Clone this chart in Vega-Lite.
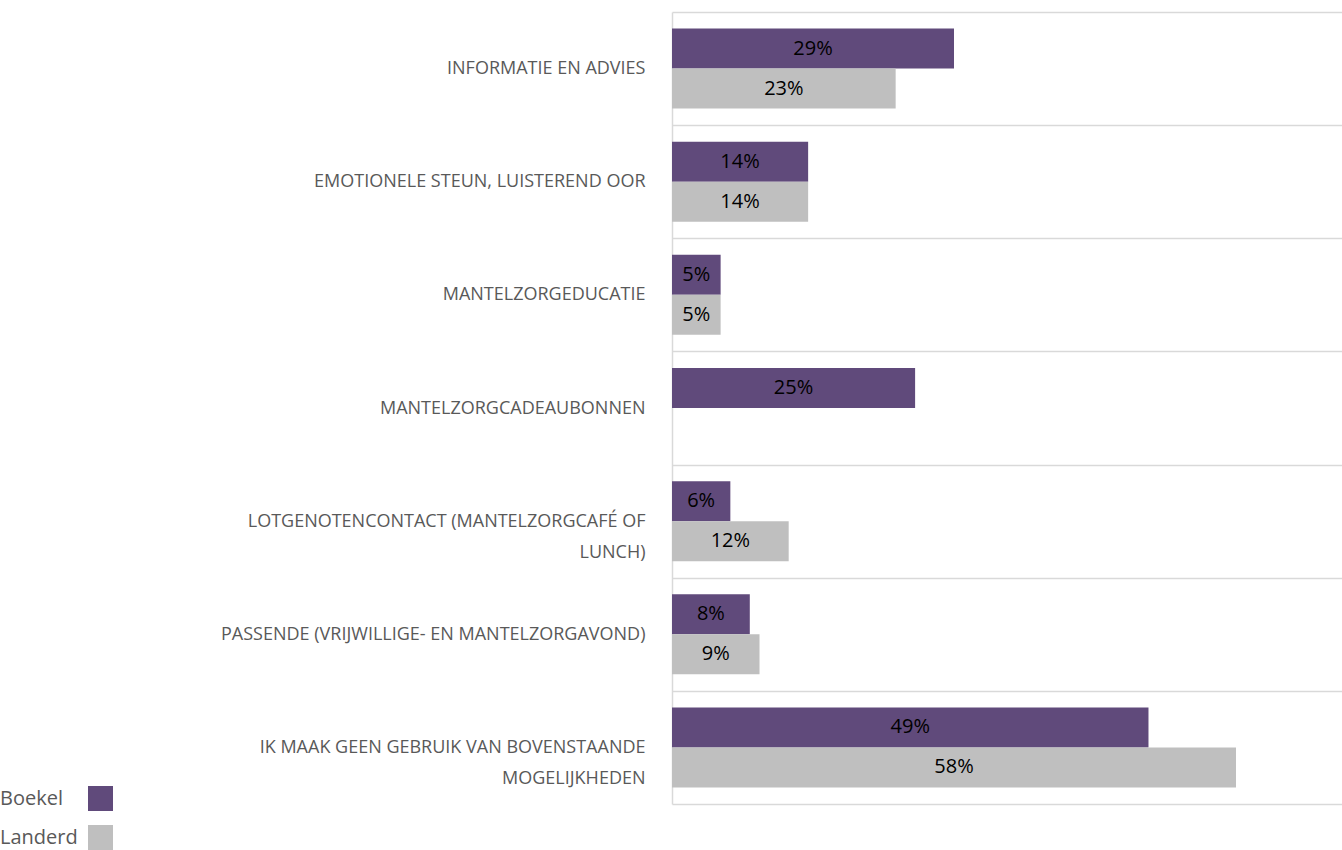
{
  "$schema": "https://vega.github.io/schema/vega-lite/v6.json",
  "autosize": {"type": "none"},
  "padding": {"left": 672, "top": 12, "right": 0, "bottom": 46},
  "width": 670,
  "height": 792,
  "background": "white",
  "config": {"view": {"stroke": null}},
  "data": {"values": [
    {"categorie": "INFORMATIE EN ADVIES", "reeks": "Boekel", "waarde": 0.29, "label": "29%"},
    {"categorie": "INFORMATIE EN ADVIES", "reeks": "Landerd", "waarde": 0.23, "label": "23%"},
    {"categorie": "EMOTIONELE STEUN, LUISTEREND OOR", "reeks": "Boekel", "waarde": 0.14, "label": "14%"},
    {"categorie": "EMOTIONELE STEUN, LUISTEREND OOR", "reeks": "Landerd", "waarde": 0.14, "label": "14%"},
    {"categorie": "MANTELZORGEDUCATIE", "reeks": "Boekel", "waarde": 0.05, "label": "5%"},
    {"categorie": "MANTELZORGEDUCATIE", "reeks": "Landerd", "waarde": 0.05, "label": "5%"},
    {"categorie": "MANTELZORGCADEAUBONNEN", "reeks": "Boekel", "waarde": 0.25, "label": "25%"},
    {"categorie": "LOTGENOTENCONTACT (MANTELZORGCAFÉ OF LUNCH)", "reeks": "Boekel", "waarde": 0.06, "label": "6%"},
    {"categorie": "LOTGENOTENCONTACT (MANTELZORGCAFÉ OF LUNCH)", "reeks": "Landerd", "waarde": 0.12, "label": "12%"},
    {"categorie": "PASSENDE (VRIJWILLIGE- EN MANTELZORGAVOND)", "reeks": "Boekel", "waarde": 0.08, "label": "8%"},
    {"categorie": "PASSENDE (VRIJWILLIGE- EN MANTELZORGAVOND)", "reeks": "Landerd", "waarde": 0.09, "label": "9%"},
    {"categorie": "IK MAAK GEEN GEBRUIK VAN BOVENSTAANDE MOGELIJKHEDEN", "reeks": "Boekel", "waarde": 0.49, "label": "49%"},
    {"categorie": "IK MAAK GEEN GEBRUIK VAN BOVENSTAANDE MOGELIJKHEDEN", "reeks": "Landerd", "waarde": 0.58, "label": "58%"}
  ]},
  "encoding": {
    "y": {
      "field": "categorie", "type": "nominal",
      "sort": null,
      "scale": {"paddingInner": 0, "paddingOuter": 0},
      "axis": {
        "title": null,
        "tickBand": "extent",
        "ticks": false,
        "grid": true,
        "gridColor": "#d9d9d9",
        "gridWidth": 1.5,
        "domain": true,
        "domainColor": "#d9d9d9",
        "domainWidth": 1.5,
        "labelFont": "Open Sans",
        "labelFontSize": 18,
        "labelColor": "#595959",
        "labelPadding": 27,
        "labelLimit": 700,
        "labelLineHeight": 31,
        "labelExpr": "datum.value == 'LOTGENOTENCONTACT (MANTELZORGCAFÉ OF LUNCH)' ? ['LOTGENOTENCONTACT (MANTELZORGCAFÉ OF', 'LUNCH)'] : datum.value == 'IK MAAK GEEN GEBRUIK VAN BOVENSTAANDE MOGELIJKHEDEN' ? ['IK MAAK GEEN GEBRUIK VAN BOVENSTAANDE', 'MOGELIJKHEDEN'] : datum.value"
      }
    },
    "yOffset": {"field": "reeks", "type": "nominal", "scale": {"domain": ["Boekel", "Landerd"], "paddingInner": 0, "paddingOuter": 0.4143}}
  },
  "layer": [
    {
      "mark": {"type": "bar", "cornerRadius": 0},
      "encoding": {
        "x": {"field": "waarde", "type": "quantitative", "scale": {"domain": [0, 0.689], "nice": false, "zero": true}, "axis": null},
        "color": {
          "field": "reeks", "type": "nominal",
          "scale": {"domain": ["Boekel", "Landerd"], "range": ["#604a7b", "#bfbfbf"]},
          "legend": {
            "title": null,
            "orient": "none",
            "legendX": -584,
            "legendY": 774,
            "symbolType": "square",
            "symbolSize": 625,
            "symbolStrokeWidth": 0,
            "symbolOpacity": 1,
            "labelAlign": "left",
            "labelOffset": -113,
            "labelFont": "Open Sans",
            "labelFontSize": 20,
            "labelColor": "#595959",
            "rowPadding": 14
          }
        }
      }
    },
    {
      "mark": {"type": "text", "align": "center", "baseline": "middle", "font": "Open Sans", "fontSize": 20, "color": "#000000"},
      "encoding": {
        "x": {"field": "waarde", "type": "quantitative", "scale": {"domain": [0, 1.378], "nice": false, "zero": true}, "axis": null},
        "text": {"field": "label", "type": "nominal"}
      }
    }
  ],
  "resolve": {"scale": {"x": "independent"}}
}
